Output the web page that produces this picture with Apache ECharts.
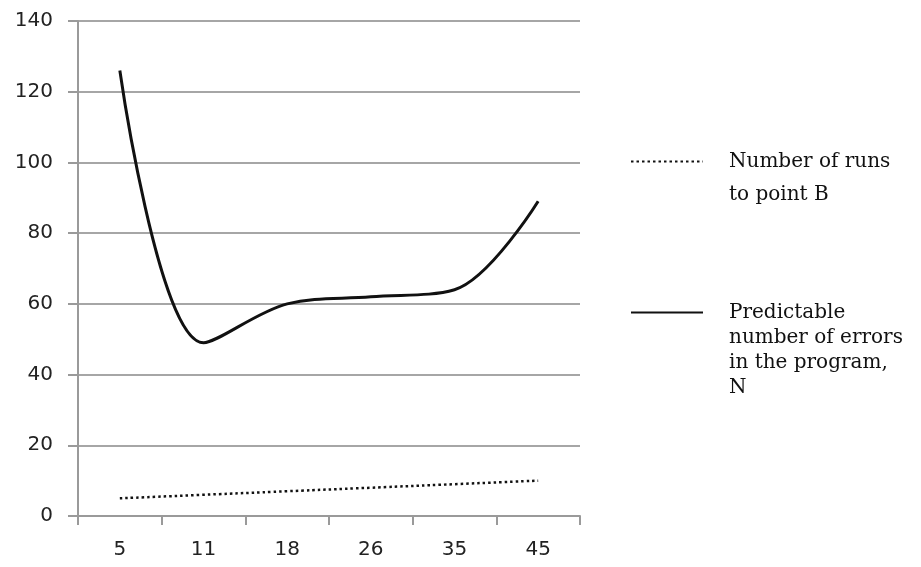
<!DOCTYPE html>
<html><head><meta charset="utf-8">
<script src="https://cdn.jsdelivr.net/npm/echarts@6/dist/echarts.min.js"></script>
<style>html,body{margin:0;padding:0;background:#fff}#c{width:921px;height:567px}</style>
</head><body><div id="c"></div>
<script>
const categories = ['5', '11', '18', '26', '35', '45'];
const runsToPointB = [5, 6, 7, 8, 9, 10];
const predictableErrors = [126, 49, 60, 62, 64, 89];
const yTicks = { min: 0, max: 140, interval: 20 };
const nameRuns = 'Number of runs\nto point B';
const nameErrors = 'Predictable\nnumber of errors\nin the program,\nN';

const chart = echarts.init(document.getElementById('c'));
const legendText = { fontFamily: 'DejaVu Serif', fontSize: 20, color: '#111' };
const axisLabelStyle = { fontFamily: 'DejaVu Sans', fontSize: 20, color: '#222' };
chart.setOption({
  animation: false,
  grid: { left: 78, right: 341, top: 21, bottom: 51 },
  legend: [
    { data: [nameRuns], left: 630, top: 112, padding: 0, itemWidth: 72, itemHeight: 6, itemGap: 0,
      itemStyle: { opacity: 0 },
      formatter: n => '\n' + n,
      textStyle: Object.assign({}, legendText, { lineHeight: 33, padding: [0, 0, 0, 21] }) },
    { data: [nameErrors], left: 630, top: 225, padding: 0, itemWidth: 72, itemHeight: 6, itemGap: 0,
      itemStyle: { opacity: 0 },
      formatter: n => '\n\n\n' + n,
      textStyle: Object.assign({}, legendText, { lineHeight: 25, padding: [0, 0, 0, 21] }) }
  ],
  xAxis: {
    type: 'category', data: categories, boundaryGap: true,
    axisLine: { lineStyle: { color: '#9a9a9a', width: 2 } },
    axisTick: { show: true, length: 9, lineStyle: { color: '#9a9a9a', width: 2 } },
    axisLabel: Object.assign({ margin: 24 }, axisLabelStyle)
  },
  yAxis: {
    type: 'value', min: yTicks.min, max: yTicks.max, interval: yTicks.interval,
    axisLine: { show: true, lineStyle: { color: '#9a9a9a', width: 2 } },
    axisTick: { show: true, length: 10, lineStyle: { color: '#9a9a9a', width: 2 } },
    axisLabel: Object.assign({ margin: 25 }, axisLabelStyle),
    splitLine: { lineStyle: { color: '#a6a6a6', width: 2 } }
  },
  series: [
    { name: nameRuns, type: 'line', data: runsToPointB, symbol: 'none', smooth: true,
      lineStyle: { type: [2.5, 3], color: '#111', width: 2.5 }, itemStyle: { color: '#111' } },
    { name: nameErrors, type: 'line', data: predictableErrors, symbol: 'none', smooth: 0.35,
      lineStyle: { color: '#111', width: 3 }, itemStyle: { color: '#111' } }
  ]
});
</script></body></html>
